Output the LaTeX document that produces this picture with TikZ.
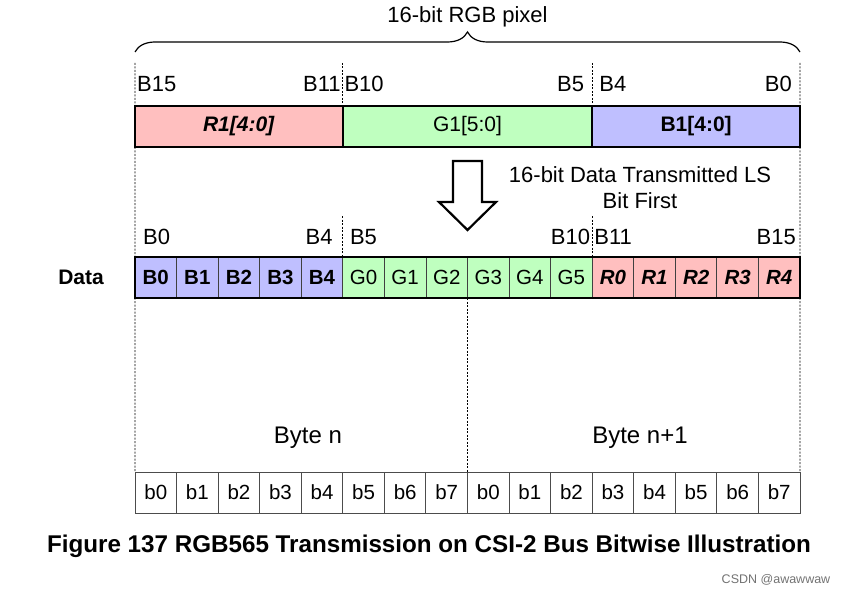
\documentclass[tikz,border=0pt]{standalone}
\usepackage{fontspec}
\setmainfont{Liberation Sans}
\usetikzlibrary{positioning}
\usetikzlibrary{decorations.pathreplacing}

\definecolor{redfill}{RGB}{255,191,191}
\definecolor{greenfill}{RGB}{191,255,191}
\definecolor{bluefill}{RGB}{191,191,255}

\tikzset{
  pixbox/.style={draw, line width=1.4pt, outer sep=0pt, inner sep=0pt, minimum height=41pt, font=\fontsize{21}{25}\selectfont},
  datacell/.style={draw=black!75, line width=0.8pt, outer sep=0pt, inner sep=0pt, minimum width=41.5625pt, minimum height=41pt, font=\fontsize{20.5}{24}\selectfont},
  bitcell/.style={draw=black!70, line width=1pt, outer sep=0pt, inner sep=0pt, minimum width=41.5625pt, minimum height=41pt, font=\fontsize{20.5}{24}\selectfont},
  bitlbl/.style={inner sep=0pt, font=\fontsize{22}{26}\selectfont},
  guide/.style={line width=0.9pt, dash pattern=on 2pt off 1.5pt},
}

\begin{document}
\begin{tikzpicture}[x=1pt, y=-1pt]
        \useasboundingbox[fill=white] (0,0) rectangle (845,596);
        % Define nodes
        % the 16-bit pixel
        \node[pixbox, fill=redfill, minimum width=207.8125pt](rpix) at (238.906,126.5){\textbf{\textit{R1[4:0]}}}; %
        \node[pixbox, fill=greenfill, minimum width=249.375pt, right=0pt of rpix](gpix){G1[5:0]}; %
        \node[pixbox, fill=bluefill, minimum width=207.8125pt, right=0pt of gpix](bpix){\textbf{B1[4:0]}}; %

        \node[bitlbl, anchor=base west, xshift=2pt](lp15) at ([yshift=14pt]rpix.north west){B15};
        \node[bitlbl, anchor=base east, xshift=-2pt](lp11) at ([yshift=14pt]rpix.north east){B11};
        \node[bitlbl, anchor=base west, xshift=1.5pt](lp10) at ([yshift=14pt]gpix.north west){B10};
        \node[bitlbl, anchor=base east, xshift=-8pt](lp5) at ([yshift=14pt]gpix.north east){B5};
        \node[bitlbl, anchor=base west, xshift=7pt](lp4) at ([yshift=14pt]bpix.north west){B4};
        \node[bitlbl, anchor=base east, xshift=-8pt](lp0) at ([yshift=14pt]bpix.north east){B0};

        \draw[decorate, decoration={brace, amplitude=20pt}, line width=1.2pt] ([yshift=54pt]rpix.north west) -- ([yshift=54pt]bpix.north east);
        \node[bitlbl](pixlbl) at (467.5,17){16-bit RGB pixel};

        % transmission arrow
        \draw[line width=2.2pt, fill=white] (453,161) -- (482,161) -- (482,202) -- (496,202) -- (467.5,230) -- (439,202) -- (453,202) -- cycle;
        \node[bitlbl, align=center](txlbl) at (640,187.5){16-bit Data Transmitted LS\\Bit First};

        % data row
        \foreach \i in {0,...,4}
          \node[datacell, fill=bluefill](d\i) at ({135+(\i+0.5)*41.5625},277.5){\textbf{B\i}};
        \foreach \i [evaluate=\i as \k using int(\i+5)] in {0,...,5}
          \node[datacell, fill=greenfill](d\k) at ({135+(\k+0.5)*41.5625},277.5){G\i};
        \foreach \i [evaluate=\i as \k using int(\i+11)] in {0,...,4}
          \node[datacell, fill=redfill](d\k) at ({135+(\k+0.5)*41.5625},277.5){\textbf{\textit{R\i}}};
        \draw[line width=2.6pt] (d0.north west) rectangle (d15.south east);
        \node[bitlbl, font=\fontsize{21}{25}\selectfont\bfseries, left=31pt of d0](datalbl){Data};

        \node[bitlbl, anchor=base west, xshift=8pt](ld0) at ([yshift=13pt]d0.north west){B0};
        \node[bitlbl, anchor=base east, xshift=-10pt](ld4) at ([yshift=13pt]d4.north east){B4};
        \node[bitlbl, anchor=base west, xshift=7pt](ld5) at ([yshift=13pt]d5.north west){B5};
        \node[bitlbl, anchor=base east, xshift=-2pt](ld10) at ([yshift=13pt]d10.north east){B10};
        \node[bitlbl, anchor=base west, xshift=2pt](ld11) at ([yshift=13pt]d11.north west){B11};
        \node[bitlbl, anchor=base east, xshift=-4pt](ld15) at ([yshift=13pt]d15.north east){B15};

        % bytes on the bus
        \foreach \i [evaluate=\i as \bitno using {int(mod(\i,8))}] in {0,...,15}
          \node[bitcell](bit\i) at ({135+(\i+0.5)*41.5625},492.5){b\bitno};
        \node[bitlbl, font=\fontsize{24}{28}\selectfont](byte0) at (308,438){Byte n};
        \node[bitlbl, font=\fontsize{24}{28}\selectfont](byte1) at (640,438){Byte n+1};

        % guide lines
        \draw[guide] ([yshift=43pt]rpix.north west) -- (bit0.north west);
        \draw[guide] ([yshift=43pt]rpix.north east) -- (rpix.north east);
        \draw[guide] ([yshift=43pt]bpix.north west) -- (bpix.north west);
        \draw[guide] ([yshift=43pt]bpix.north east) -- (bit15.north east);
        \draw[guide] ([yshift=41pt]d5.north west) -- (d5.north west);
        \draw[guide] ([yshift=41pt]d11.north west) -- (d11.north west);
        \draw[guide] (d8.south west) -- (bit8.north west);

        \node[bitlbl, font=\fontsize{24.2}{28}\selectfont\bfseries](caption) at (429,546){Figure 137 RGB565 Transmission on CSI-2 Bus Bitwise Illustration};
        \node[bitlbl, font=\fontsize{12.5}{15}\selectfont, text=black!55](mark) at (776,580){CSDN @awawwaw};
\end{tikzpicture}
\end{document}
